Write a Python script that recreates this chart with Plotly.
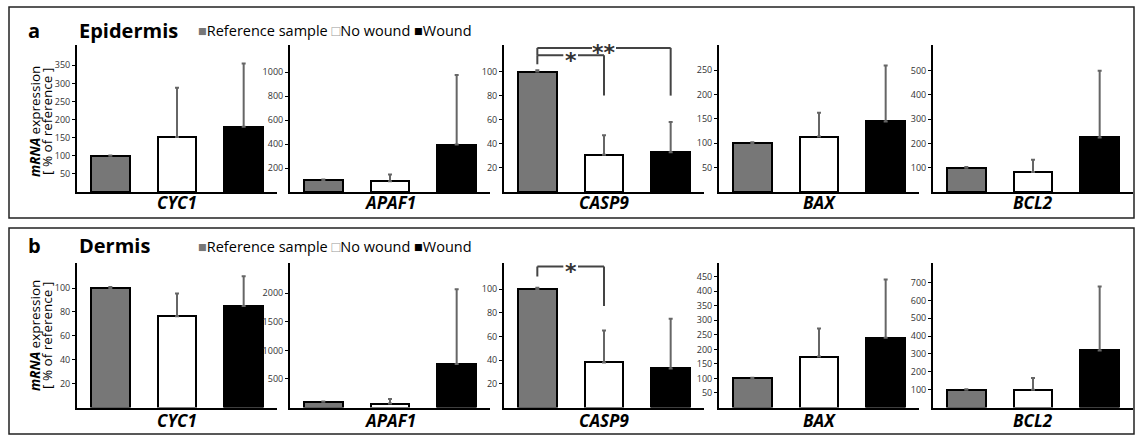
import plotly.graph_objects as go

# ---------------- data ----------------
genes = ["CYC1", "APAF1", "CASP9", "BAX", "BCL2"]
groups = ["Reference sample", "No wound", "Wound"]

# Panel a: Epidermis
epi_ref = [100, 100, 100, 100, 100]
epi_ref_err = [1, 4, 1, 2, 3]
epi_nowound = [152, 90, 31, 114, 82]
epi_nowound_err = [136, 55, 16, 49, 51]
epi_wound = [180, 395, 33, 145, 225]
epi_wound_err = [175, 580, 25, 115, 275]

# Panel b: Dermis
der_ref = [100, 100, 100, 100, 100]
der_ref_err = [1, 6, 1, 2, 3]
der_nowound = [76.5, 70, 38, 175, 100]
der_nowound_err = [19, 80, 27, 97, 65]
der_wound = [85, 760, 33, 240, 320]
der_wound_err = [25, 1310, 42, 200, 358]

epi_ticks = [
    [50, 100, 150, 200, 250, 300, 350],
    [200, 400, 600, 800, 1000],
    [20, 40, 60, 80, 100],
    [50, 100, 150, 200, 250],
    [100, 200, 300, 400, 500],
]
der_ticks = [
    [20, 40, 60, 80, 100],
    [500, 1000, 1500, 2000],
    [20, 40, 60, 80, 100],
    [50, 100, 150, 200, 250, 300, 350, 400, 450],
    [100, 200, 300, 400, 500, 600, 700],
]
epi_ymax = [406, 1225, 122, 302, 606]
der_ymax = [121, 2530, 122, 497, 810]

# significance brackets: (panel, gene index, x_left, x_right, level, left_end, right_end, gap_lo, gap_hi, label)
brackets = [
    ("a", 2, 0, 1, 113.5, 106, 80, 0.39, 0.61, "*"),
    ("a", 2, 0, 2, 119.6, 113.5, 80, 0.82, 1.18, "**"),
    ("b", 2, 0, 1, 119, 110.6, 85.7, 0.39, 0.61, "*"),
]

# ---------------- layout geometry ----------------
W, H = 1136, 437
col_x0 = [77, 290, 504, 719, 933]
col_w = 200
panels = {
    "a": dict(title="Epidermis", bottom=192, top=45, label_y=30, gene_y=203,
              ref=epi_ref, ref_err=epi_ref_err, nw=epi_nowound, nw_err=epi_nowound_err,
              w=epi_wound, w_err=epi_wound_err, ticks=epi_ticks, ymax=epi_ymax,
              box=(9, 7, 1134, 218), ytitle_y=122),
    "b": dict(title="Dermis", bottom=407.5, top=263, label_y=246, gene_y=420,
              ref=der_ref, ref_err=der_ref_err, nw=der_nowound, nw_err=der_nowound_err,
              w=der_wound, w_err=der_wound_err, ticks=der_ticks, ymax=der_ymax,
              box=(9, 228, 1134, 434), ytitle_y=336),
}

colors = ["#777777", "#ffffff", "#000000"]
FONT = "Open Sans"

fig = go.Figure()
layout = dict(width=W, height=H, margin=dict(l=0, r=0, t=0, b=0),
              paper_bgcolor="white", plot_bgcolor="white", showlegend=False,
              barmode="overlay", bargap=0)
annotations = []
shapes = []


def px(x):
    return x / W


def py(y):
    return 1 - y / H


axis_index = {}
k = 0
for pname, p in panels.items():
    for i, g in enumerate(genes):
        k += 1
        axis_index[(pname, i)] = k
        xa = "x" if k == 1 else f"x{k}"
        ya = "y" if k == 1 else f"y{k}"
        fig.add_trace(go.Bar(
            x=groups,
            y=[p["ref"][i], p["nw"][i], p["w"][i]],
            xaxis=xa, yaxis=ya,
            width=0.58,
            marker=dict(color=colors, line=dict(color="black", width=2)),
            error_y=dict(type="data", symmetric=False,
                         array=[p["ref_err"][i], p["nw_err"][i], p["w_err"][i]],
                         arrayminus=[0, 0, 0],
                         color="#666666", thickness=2, width=2),
        ))
        xkey = "xaxis" if k == 1 else f"xaxis{k}"
        ykey = "yaxis" if k == 1 else f"yaxis{k}"
        x0 = col_x0[i]
        layout[xkey] = dict(
            domain=[px(x0), px(x0 + col_w)], anchor=ya,
            type="category", categoryorder="array", categoryarray=groups,
            range=[-0.5, 2.5], showticklabels=False, ticks="",
            showline=True, linecolor="black", linewidth=2, showgrid=False,
            zeroline=False, fixedrange=True,
        )
        layout[ykey] = dict(
            domain=[py(p["bottom"]), py(p["top"])], anchor=xa,
            range=[0, p["ymax"][i]], tickvals=p["ticks"][i],
            ticks="outside", ticklen=3, tickwidth=1, tickcolor="black",
            tickfont=dict(family=FONT, size=9, color="#333333"),
            showline=True, linecolor="black", linewidth=2, showgrid=False,
            zeroline=False, fixedrange=True,
        )
        annotations.append(dict(
            xref="paper", yref="paper", x=px(x0 + col_w / 2), y=py(p["gene_y"]),
            text=f"<b><i>{g}</i></b>", showarrow=False,
            xanchor="center", yanchor="middle",
            font=dict(family=FONT, size=17, color="black"),
        ))

    # panel letter, title, legend
    annotations.append(dict(xref="paper", yref="paper", x=px(26), y=py(p["label_y"]),
                            text=f"<b>{pname}</b>", showarrow=False, xanchor="left",
                            yanchor="middle", font=dict(family=FONT, size=20, color="black")))
    annotations.append(dict(xref="paper", yref="paper", x=px(77), y=py(p["label_y"]),
                            text=f"<b>{p['title']}</b>", showarrow=False, xanchor="left",
                            yanchor="middle", font=dict(family=FONT, size=20, color="black")))
    legend_text = ("<span style='color:#777777'>■</span>" + groups[0] + " "
                   "<span style='color:#999999'>□</span>" + groups[1] + " "
                   "<span style='color:#000000'>■</span>" + groups[2])
    annotations.append(dict(xref="paper", yref="paper", x=px(196), y=py(p["label_y"] + 1),
                            text=legend_text, showarrow=False, xanchor="left",
                            yanchor="middle", font=dict(family=FONT, size=14.5, color="black")))
    # y-axis title (two lines)
    annotations.append(dict(xref="paper", yref="paper", x=px(35), y=py(p["ytitle_y"]),
                            text="<b><i>mRNA</i></b> expression", showarrow=False,
                            textangle=-90, xanchor="center", yanchor="middle",
                            font=dict(family=FONT, size=13.5, color="black")))
    annotations.append(dict(xref="paper", yref="paper", x=px(47), y=py(p["ytitle_y"]),
                            text="[ % of reference ]", showarrow=False,
                            textangle=-90, xanchor="center", yanchor="middle",
                            font=dict(family=FONT, size=13.5, color="black")))
    # panel border
    bx0, by0, bx1, by1 = p["box"]
    shapes.append(dict(type="rect", xref="paper", yref="paper",
                       x0=px(bx0), x1=px(bx1), y0=py(by1), y1=py(by0),
                       line=dict(color="#222222", width=1.5), fillcolor="rgba(0,0,0,0)"))

# significance brackets
for pname, gi, xl, xr, lvl, lend, rend, glo, ghi, lab in brackets:
    k = axis_index[(pname, gi)]
    xa = "x" if k == 1 else f"x{k}"
    ya = "y" if k == 1 else f"y{k}"
    line = dict(color="#444444", width=2)
    segs = [(xl, lvl, glo, lvl), (ghi, lvl, xr, lvl), (xl, lvl, xl, lend), (xr, lvl, xr, rend)]
    for a0, b0, a1, b1 in segs:
        shapes.append(dict(type="line", xref=xa, yref=ya, x0=a0, y0=b0, x1=a1, y1=b1,
                           line=line, layer="above"))
    annotations.append(dict(xref=xa, yref=ya, x=(glo + ghi) / 2, y=lvl, text=f"<b>{lab}</b>",
                            showarrow=False, xanchor="center", yanchor="middle", yshift=-5,
                            font=dict(family="DejaVu Sans", size=22, color="#333333")))

layout["annotations"] = annotations
layout["shapes"] = shapes
fig.update_layout(**layout)
fig.write_html("out.html", config={"displayModeBar": False},
               post_script="document.body.style.margin='0';document.body.style.overflow='hidden';")
